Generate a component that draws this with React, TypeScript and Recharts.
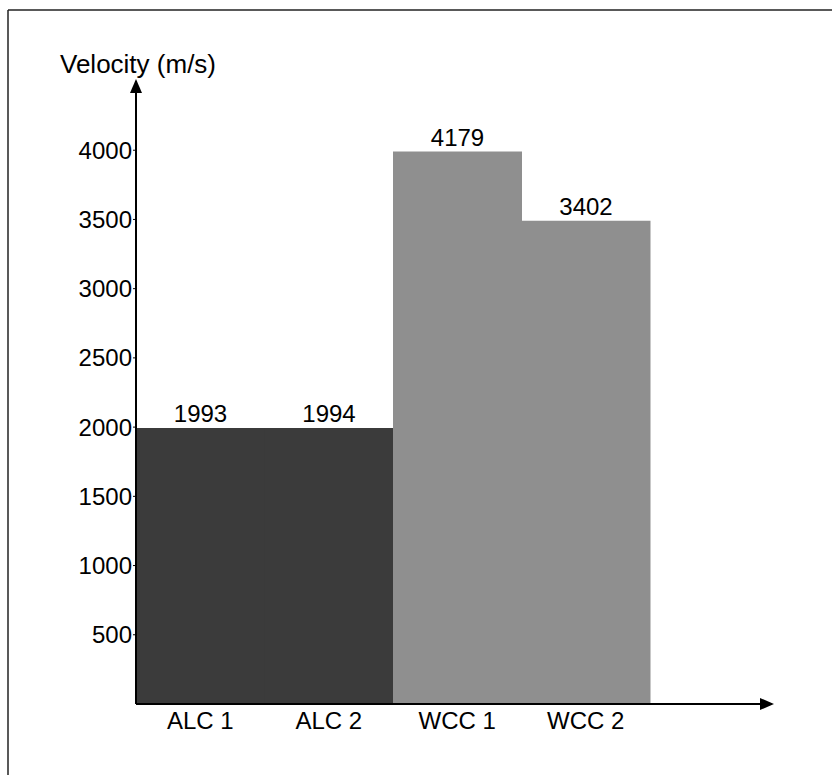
import { BarChart, Bar, XAxis, YAxis, Cell, LabelList } from 'recharts';

// categories along the x axis
const categories = ['ALC 1', 'ALC 2', 'WCC 1', 'WCC 2'];
// bar heights as they are drawn in the picture (the drawing is not exactly to scale)
const barHeights = [1993, 1994, 3990, 3490];
// numbers printed above each bar
const printedValues = [1993, 1994, 4179, 3402];
const groups = ['ALC', 'ALC', 'WCC', 'WCC'];
const yTicks = [500, 1000, 1500, 2000, 2500, 3000, 3500, 4000];

const COLORS: Record<string, string> = { ALC: '#3b3b3b', WCC: '#8f8f8f' };
const FONT = '"Liberation Sans", Arial, Helvetica, sans-serif';

const data = categories.map((name, i) => ({
  name,
  height: barHeights[i],
  printed: printedValues[i],
  group: groups[i],
}));

export default function App() {
  return (
    <div style={{ position: 'absolute', left: 0, top: 0, width: 832, height: 775, background: '#fff', fontFamily: FONT }}>
      <BarChart
        width={832}
        height={775}
        data={data}
        margin={{ top: 81, right: 60, bottom: 41, left: 76 }}
        barCategoryGap={0}
        barGap={0}
      >
        <XAxis
          dataKey="name"
          height={30}
          padding={{ left: 0, right: 122 }}
          axisLine={{ stroke: '#000', strokeWidth: 2, markerEnd: 'url(#arrowHead)' }}
          tickLine={false}
          tickSize={0}
          tickMargin={8}
          interval={0}
          tick={{ fill: '#000', fontSize: 24, fontFamily: FONT }}
        />
        <YAxis
          width={60}
          domain={[0, 4500]}
          ticks={yTicks}
          interval={0}
          axisLine={{ stroke: '#000', strokeWidth: 2, markerStart: 'url(#arrowHead)' }}
          tickLine={{ stroke: '#000', strokeWidth: 1 }}
          tickSize={3}
          tickMargin={1}
          tick={{ fill: '#000', fontSize: 24, fontFamily: FONT }}
        />
        <Bar dataKey="height" isAnimationActive={false}>
          {data.map((d, i) => (
            <Cell key={`cell-${i}`} fill={COLORS[d.group]} />
          ))}
          <LabelList dataKey="printed" position="top" offset={6} fill="#000" fontSize={24} fontFamily={FONT} />
        </Bar>
      </BarChart>

      {/* frame, title and arrow marker */}
      <svg width={832} height={775} style={{ position: 'absolute', left: 0, top: 0, pointerEvents: 'none' }}>
        <defs>
          <marker
            id="arrowHead"
            viewBox="0 0 14 12"
            refX="12"
            refY="6"
            markerWidth="14"
            markerHeight="12"
            markerUnits="userSpaceOnUse"
            orient="auto-start-reverse"
          >
            <path d="M0,0 L14,6 L0,12 z" fill="#000" />
          </marker>
        </defs>
        <line x1={8} y1={10} x2={832} y2={10} stroke="#222" strokeWidth={1.5} />
        <line x1={8} y1={10} x2={8} y2={775} stroke="#222" strokeWidth={1.5} />
        <text x={138} y={73} textAnchor="middle" fontSize={26} fontFamily={FONT} fill="#000">
          Velocity (m/s)
        </text>
      </svg>
    </div>
  );
}
